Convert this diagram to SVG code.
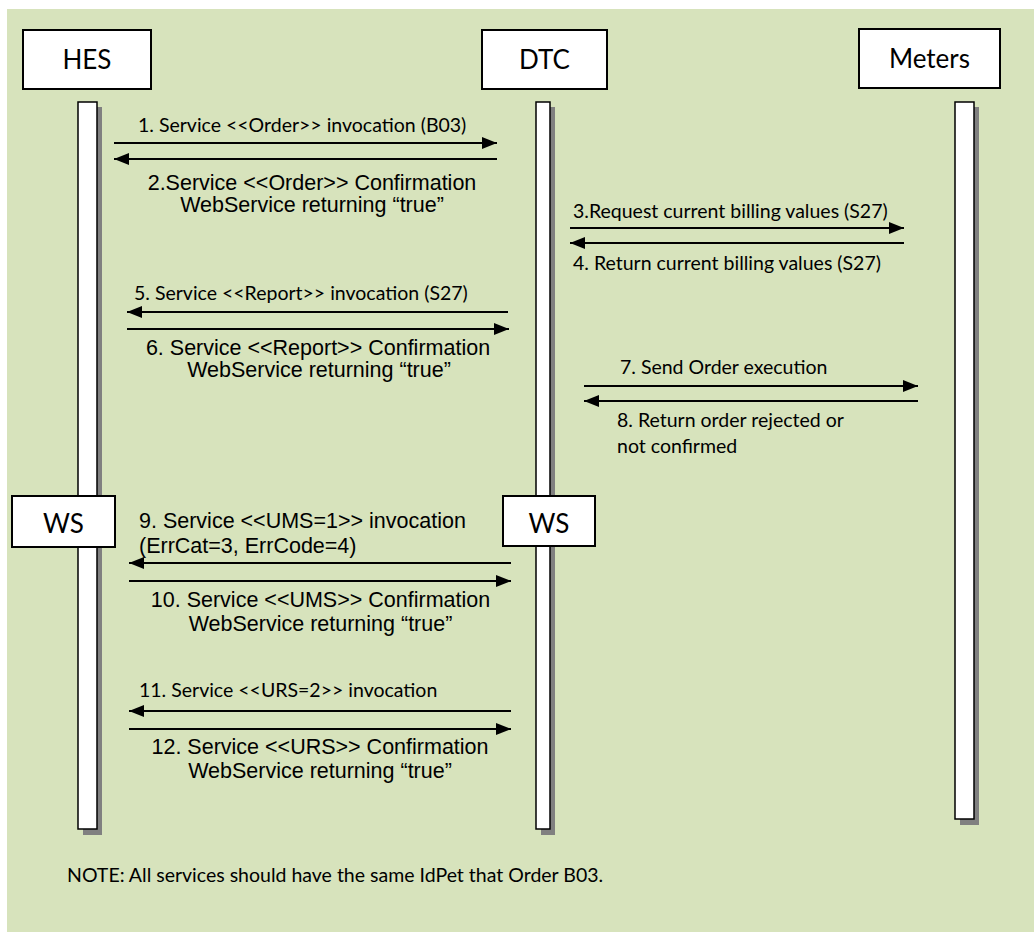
<svg xmlns="http://www.w3.org/2000/svg" width="1034" height="932" viewBox="0 0 1034 932">
  <style>
    .bg { fill: #D7E3BC; }
    .box { fill: #fff; stroke: #000; stroke-width: 2; }
    .bar { fill: #fff; stroke: #000; stroke-width: 1.5; }
    .shadow { fill: #808080; }
    .msg { stroke: #000; stroke-width: 2; fill: none; marker-end: url(#ah); }
    .lbl { font-family: Lato, "Liberation Sans", sans-serif; font-size: 26px; fill: #000; text-anchor: middle; }
    .cal { font-family: Lato, "Liberation Sans", sans-serif; font-size: 19.5px; fill: #000; }
    .ari { font-family: "Liberation Sans", Arial, sans-serif; font-size: 21.5px; fill: #000; text-anchor: middle; }
    .ari-l { font-family: "Liberation Sans", Arial, sans-serif; font-size: 21.5px; fill: #000; }
  </style>
  <defs>
    <marker id="ah" markerUnits="userSpaceOnUse" markerWidth="16" markerHeight="12" refX="15" refY="6" orient="auto">
      <path d="M0,0 L15,6 L0,12 z" fill="#000"/>
    </marker>
  </defs>

  <rect class="bg" x="7" y="9" width="1027" height="923"/>

  <!-- lifelines -->
  <g id="lifeline-hes">
    <rect class="shadow" x="83" y="107" width="19" height="728"/>
    <rect class="bar" x="78" y="102" width="19" height="727"/>
  </g>
  <g id="lifeline-dtc">
    <rect class="shadow" x="541" y="107" width="14" height="728"/>
    <rect class="bar" x="536" y="102" width="14" height="727"/>
  </g>
  <g id="lifeline-meters">
    <rect class="shadow" x="960" y="107" width="19" height="718"/>
    <rect class="bar" x="955" y="102" width="19" height="717"/>
  </g>

  <!-- participants -->
  <g id="hes">
    <rect class="box" x="23" y="30" width="128" height="59"/>
    <text class="lbl" x="87" y="69">HES</text>
  </g>
  <g id="dtc">
    <rect class="box" x="482" y="30" width="125" height="59"/>
    <text class="lbl" x="544.5" y="69">DTC</text>
  </g>
  <g id="meters">
    <rect class="box" x="859" y="29" width="141" height="59"/>
    <text class="lbl" x="929.5" y="68">Meters</text>
  </g>
  <g id="ws-hes">
    <rect class="box" x="12" y="496" width="103" height="51"/>
    <text class="lbl" x="63.5" y="533">WS</text>
  </g>
  <g id="ws-dtc">
    <rect class="box" x="503" y="496" width="92" height="50"/>
    <text class="lbl" x="549" y="533">WS</text>
  </g>

  <!-- messages -->
  <g id="connectors">
    <line class="msg" x1="114" y1="143" x2="497" y2="143"/>
    <line class="msg" x1="497" y1="159" x2="114" y2="159"/>
    <line class="msg" x1="570" y1="228" x2="904" y2="228"/>
    <line class="msg" x1="904" y1="243" x2="570" y2="243"/>
    <line class="msg" x1="508" y1="312" x2="127" y2="312"/>
    <line class="msg" x1="127" y1="329" x2="509" y2="329"/>
    <line class="msg" x1="584" y1="386" x2="918" y2="386"/>
    <line class="msg" x1="918" y1="401" x2="584" y2="401"/>
    <line class="msg" x1="511" y1="563" x2="129" y2="563"/>
    <line class="msg" x1="129" y1="581" x2="511" y2="581"/>
    <line class="msg" x1="511" y1="711" x2="129" y2="711"/>
    <line class="msg" x1="129" y1="729" x2="511" y2="729"/>
  </g>

  <!-- message labels -->
  <g id="labels">
    <text class="cal" x="138" y="132">1. Service &lt;&lt;Order&gt;&gt; invocation (B03)</text>
    <text class="ari" x="312" y="190">2.Service &lt;&lt;Order&gt;&gt; Confirmation</text>
    <text class="ari" x="312" y="212">WebService returning “true”</text>
    <text class="cal" x="573" y="218">3.Request current billing values (S27)</text>
    <text class="cal" x="573" y="270">4. Return current billing values (S27)</text>
    <text class="cal" x="134" y="300">5. Service &lt;&lt;Report&gt;&gt; invocation (S27)</text>
    <text class="ari" x="318" y="355">6. Service &lt;&lt;Report&gt;&gt; Confirmation</text>
    <text class="ari" x="319" y="377">WebService returning “true”</text>
    <text class="cal" x="620" y="374">7. Send Order execution</text>
    <text class="cal" x="617" y="427">8. Return order rejected or</text>
    <text class="cal" x="617" y="453">not confirmed</text>
    <text class="ari-l" x="139" y="528">9. Service &lt;&lt;UMS=1&gt;&gt; invocation</text>
    <text class="ari-l" x="139" y="553">(ErrCat=3, ErrCode=4)</text>
    <text class="ari" x="320.5" y="607">10. Service &lt;&lt;UMS&gt;&gt; Confirmation</text>
    <text class="ari" x="320.5" y="631">WebService returning “true”</text>
    <text class="cal" x="139" y="697">11. Service &lt;&lt;URS=2&gt;&gt; invocation</text>
    <text class="ari" x="320" y="754">12. Service &lt;&lt;URS&gt;&gt; Confirmation</text>
    <text class="ari" x="320" y="778">WebService returning “true”</text>
    <text class="cal" x="67" y="882">NOTE: All services should have the same IdPet that Order B03.</text>
  </g>
</svg>
